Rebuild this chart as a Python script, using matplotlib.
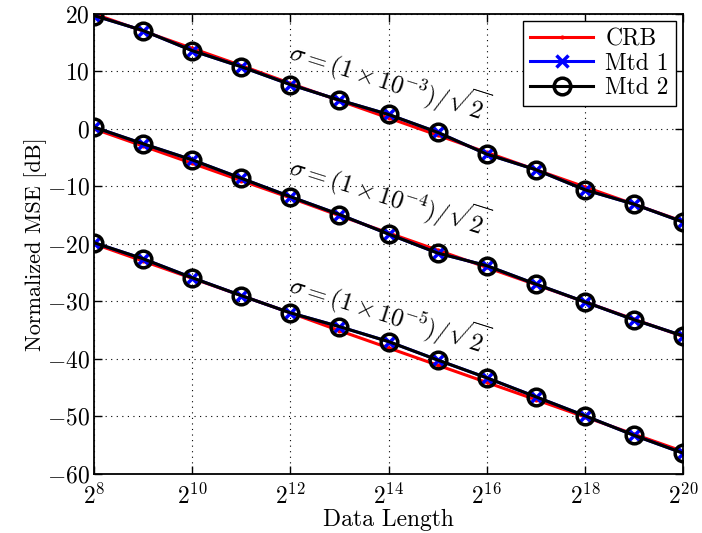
import numpy as np
import matplotlib
matplotlib.use("Agg")
import matplotlib.pyplot as plt

plt.rcParams['font.family'] = 'serif'
plt.rcParams['font.serif'] = ['cmr10']
plt.rcParams['mathtext.fontset'] = 'cm'
plt.rcParams['axes.formatter.use_mathtext'] = True

# data lengths as powers of two
exps = np.arange(8, 21)
N = 2.0 ** exps

# CRB curves (dB) for the three noise levels
crb_3 = [20.0, 17.0, 14.0, 11.0, 7.9, 4.9, 1.9, -1.1, -4.1, -7.1, -10.1, -13.1, -16.1]
crb_4 = [0.0, -3.0, -6.0, -9.0, -12.0, -15.1, -18.1, -21.1, -24.1, -27.1, -30.1, -33.1, -36.1]
crb_5 = [-20.0, -23.0, -26.0, -29.0, -32.0, -35.1, -38.1, -41.1, -44.1, -47.1, -50.1, -53.1, -56.1]

# method 1
mtd1_3 = [19.7, 17.1, 13.6, 10.8, 7.7, 5.0, 2.5, -0.6, -4.4, -7.1, -10.6, -13.1, -16.2]
mtd1_4 = [0.3, -2.6, -5.4, -8.6, -11.8, -14.9, -18.3, -21.6, -23.8, -27.0, -30.1, -33.2, -36.0]
mtd1_5 = [-19.8, -22.6, -25.9, -29.0, -32.0, -34.4, -37.0, -40.2, -43.3, -46.6, -49.9, -53.3, -56.4]

# method 2
mtd2_3 = [19.7, 17.1, 13.6, 10.8, 7.7, 5.0, 2.5, -0.6, -4.4, -7.1, -10.6, -13.1, -16.2]
mtd2_4 = [0.3, -2.6, -5.4, -8.6, -11.8, -14.9, -18.3, -21.6, -23.8, -27.0, -30.1, -33.2, -36.0]
mtd2_5 = [-19.8, -22.6, -25.9, -29.0, -32.0, -34.4, -37.0, -40.2, -43.3, -46.6, -49.9, -53.3, -56.4]

labels = [r'$\sigma = (1\times10^{-3})/\sqrt{2}$',
          r'$\sigma = (1\times10^{-4})/\sqrt{2}$',
          r'$\sigma = (1\times10^{-5})/\sqrt{2}$']
label_y = [13.9, -6.1, -26.5]

fig = plt.figure(figsize=(7.02, 5.33), dpi=100)
ax = fig.add_axes([0.134, 0.111, 0.839, 0.863])

groups = [(crb_3, mtd1_3, mtd2_3), (crb_4, mtd1_4, mtd2_4), (crb_5, mtd1_5, mtd2_5)]
for i, (c, m1, m2) in enumerate(groups):
    ax.plot(N, c, color='red', lw=2.2, marker='.', ms=4,
            label='CRB' if i == 0 else None)
    ax.plot(N, m1, color='blue', lw=2.2, marker='x', ms=8, mew=2.5,
            label='Mtd 1' if i == 0 else None)
    ax.plot(N, m2, color='black', lw=2.2, marker='o', ms=12, mew=2.5,
            mfc='none', label='Mtd 2' if i == 0 else None)

for txt, yy in zip(labels, label_y):
    ax.text(2.0 ** 12, yy, txt, fontsize=18, rotation=-17.5,
            rotation_mode='anchor', ha='left', va='center')

ax.set_xscale('log', base=2)
ax.set_xlim(2 ** 8, 2 ** 20)
ax.set_ylim(-60, 20)
ax.set_xticks(2.0 ** np.arange(8, 21, 2))
ax.set_xticklabels([r'$2^{%d}$' % k for k in range(8, 21, 2)])
ax.xaxis.set_minor_locator(matplotlib.ticker.NullLocator())
ax.set_yticks(np.arange(-60, 21, 10))
ax.tick_params(direction='in', top=True, right=True, labelsize=17, width=1, length=6)
ax.tick_params(axis='x', pad=7)
ax.tick_params(axis='y', pad=3)
ax.grid(True, color='black', linestyle=(0, (1, 4)), linewidth=0.8)
for s in ax.spines.values():
    s.set_linewidth(1.3)

ax.set_xlabel('Data Length', fontsize=17, labelpad=0)
ax.set_ylabel('Normalized MSE [dB]', fontsize=16, labelpad=0)

leg = ax.legend(loc='upper right', fontsize=17, fancybox=False, framealpha=1,
                edgecolor='black', handlelength=2.7, borderaxespad=0.3,
                labelspacing=0.1, borderpad=0.3, handletextpad=0.5)
leg.get_frame().set_linewidth(1.0)

fig.savefig('out.png', dpi=100)
